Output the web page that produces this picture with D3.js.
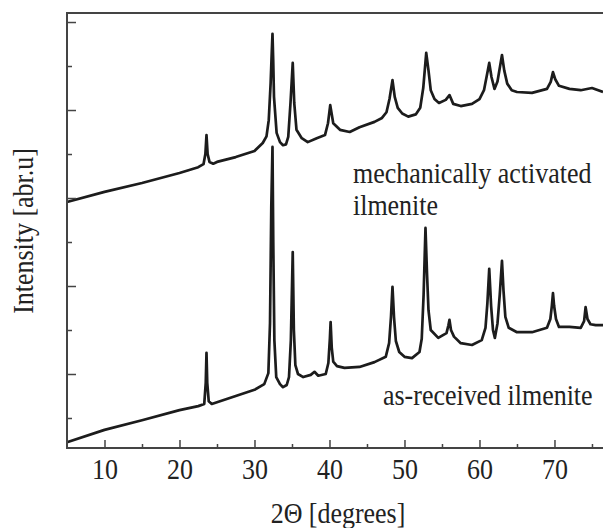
<!DOCTYPE html>
<html>
<head>
<meta charset="utf-8">
<script src="https://cdn.jsdelivr.net/npm/d3@7"></script>
<style>
  body { margin: 0; background: #fff; }
  text { font-family: "Liberation Serif", "Times New Roman", serif; fill: #222; }
</style>
</head>
<body>
<div id="chart-container"></div>
<script>
// XRD patterns, values (arbitrary intensity units)
const activatedAngles = [5, 10, 15, 20, 22.5, 23.2, 23.45, 23.6, 23.75, 24.0, 24.5, 25, 27.5, 30, 31.1, 31.6, 31.9, 32.15, 32.3, 32.4,
  32.5, 32.6, 32.95, 33.4, 33.8, 34.2, 34.5, 34.8, 35.1, 35.3, 35.6, 36.3, 37.1, 38.3, 39.4, 39.8, 40.1, 40.5, 41.4, 42.7,
  44, 46, 47.0, 47.6, 48.0, 48.4, 48.7, 49.1, 49.7, 50.5, 51.5, 52.1, 52.5, 52.9, 53.2, 53.5, 54.0, 54.6, 55.5, 56.0,
  56.5, 57.5, 59, 60.0, 60.6, 61.0, 61.3, 61.6, 62.0, 62.4, 62.7, 63.0, 63.3, 63.7, 64.3, 65, 67, 69, 69.5, 69.8,
  70.1, 70.6, 72, 73.5, 75, 76.47];
const activatedCounts = [491, 514, 534, 557, 570, 577, 600, 643, 600, 582, 578, 582, 593, 607, 625, 640, 677, 760, 830, 873,
  810, 730, 648, 627, 620, 622, 639, 716, 807, 716, 655, 636, 627, 636, 643, 670, 711, 670, 655, 650,
  661, 673, 682, 695, 725, 768, 730, 705, 692, 685, 690, 705, 750, 830, 790, 745, 725, 716, 723, 734,
  714, 709, 714, 725, 745, 780, 807, 775, 748, 765, 795, 825, 790, 760, 745, 741, 739, 748, 764, 786,
  770, 755, 748, 745, 750, 741];

const receivedAngles = [5, 10, 15, 20, 22.5, 23.3, 23.5, 23.6, 23.7, 23.9, 24.3, 25, 27.5, 30, 31.3, 31.85, 32.07, 32.24, 32.4, 32.5,
  32.65, 32.9, 33.4, 33.8, 34.3, 34.6, 34.85, 35.1, 35.25, 35.45, 35.8, 36.5, 37.5, 38.0, 38.5, 39.5, 39.85, 40.05, 40.15, 40.3,
  40.5, 41, 42, 44, 46, 47.5, 47.95, 48.2, 48.4, 48.6, 48.85, 49.3, 50, 51, 52, 52.3, 52.55, 52.8, 53.0, 53.2,
  53.5, 54.5, 55.6, 55.85, 56.0, 56.2, 56.6, 57.5, 59, 60.3, 60.8, 61.05, 61.3, 61.55, 61.8, 62.05, 62.4, 62.7, 63.0, 63.2,
  63.45, 63.9, 65, 67, 69, 69.45, 69.65, 69.8, 69.95, 70.2, 70.6, 72, 73.5, 73.95, 74.15, 74.4, 74.8, 75.5, 76.47];
const receivedCounts = [-55, -27, -5, 18, 27, 32, 80, 148, 80, 38, 32, 36, 50, 64, 77, 102, 216, 480, 616, 405,
  177, 93, 77, 70, 75, 93, 177, 377, 200, 120, 100, 93, 98, 105, 96, 100, 125, 180, 218, 160,
  128, 118, 114, 116, 127, 139, 170, 230, 298, 230, 175, 150, 139, 136, 150, 180, 280, 432, 330, 245,
  200, 182, 193, 210, 223, 200, 185, 170, 166, 177, 205, 260, 339, 255, 200, 182, 215, 280, 357, 290,
  230, 205, 195, 195, 205, 225, 255, 284, 255, 225, 207, 207, 205, 220, 252, 225, 213, 211, 211];

const xTicks = [10, 20, 30, 40, 50, 60, 70];
const xMinorTicks = [15, 25, 35, 45, 55, 65, 75];
const yMajorTicks = [100, 300, 500, 700, 900];
const yMinorTicks = [0, 200, 400, 600, 800];

const svgWidth = 603;
const svgHeight = 528;
const margin = { top: 13, right: 0, bottom: 80, left: 67 };
const width = svgWidth - margin.left - margin.right;
const height = svgHeight - margin.top - margin.bottom;

// the lettering in the figure is a narrow Times, so squeeze it a bit
const squeeze = "scale(0.88,1)";
const fontSize = 29.5;

const svg = d3.select("#chart-container")
    .append("svg")
    .attr("width", svgWidth)
    .attr("height", svgHeight)
    .append("g")
    .attr("transform", `translate(${margin.left},${margin.top})`);

const x = d3.scaleLinear().domain([5, 76.47]).range([0, width]);
const y = d3.scaleLinear().domain([-68.2, 920.5]).range([height, 0]);

// curves
const line = d3.line()
    .x(d => x(d[0]))
    .y(d => y(d[1]));

const series = [
    d3.zip(activatedAngles, activatedCounts),
    d3.zip(receivedAngles, receivedCounts)
];

svg.selectAll(".trace")
    .data(series)
    .enter()
    .append("path")
    .attr("class", "trace")
    .attr("d", line)
    .attr("fill", "none")
    .attr("stroke", "#1c1c1c")
    .attr("stroke-width", 2.7)
    .attr("stroke-linejoin", "round");

// axes, ticks point inward
const axisColor = "#444";
svg.append("g")
    .attr("transform", `translate(0,${height})`)
    .call(d3.axisBottom(x).tickValues(xTicks).tickSize(-8).tickFormat(d3.format("d")))
    .call(g => g.select(".domain").remove())
    .call(g => g.selectAll(".tick line").attr("stroke", axisColor).attr("stroke-width", 1.5))
    .call(g => g.selectAll(".tick text")
        .attr("y", 31).attr("dy", null)
        .attr("transform", squeeze)
        .attr("font-size", fontSize)
        .attr("fill", "#222"));

svg.append("g")
    .attr("transform", `translate(0,${height})`)
    .call(d3.axisBottom(x).tickValues(xMinorTicks).tickSize(-4).tickFormat(""))
    .call(g => g.select(".domain").remove())
    .call(g => g.selectAll(".tick line").attr("stroke", axisColor).attr("stroke-width", 1.5));

svg.append("g")
    .call(d3.axisLeft(y).tickValues(yMajorTicks).tickSize(-9).tickFormat(""))
    .call(g => g.select(".domain").remove())
    .call(g => g.selectAll(".tick line").attr("stroke", axisColor).attr("stroke-width", 1.5));

svg.append("g")
    .call(d3.axisLeft(y).tickValues(yMinorTicks).tickSize(-5).tickFormat(""))
    .call(g => g.select(".domain").remove())
    .call(g => g.selectAll(".tick line").attr("stroke", axisColor).attr("stroke-width", 1.5));

// frame: left, bottom, top
svg.append("path")
    .attr("d", `M${width},0H0V${height}H${width}`)
    .attr("fill", "none")
    .attr("stroke", axisColor)
    .attr("stroke-width", 2);

// labels
function label(txt, px, py, rot) {
    svg.append("text")
        .text(txt)
        .attr("transform", `translate(${px},${py})` + (rot ? " rotate(-90)" : "") + " " + squeeze)
        .attr("text-anchor", rot ? "middle" : "start")
        .attr("font-size", fontSize);
}

svg.append("text")
    .text("2Θ [degrees]")
    .attr("transform", `translate(${width / 2 + 3},${height + 75}) ${squeeze}`)
    .attr("text-anchor", "middle")
    .attr("font-size", fontSize);

label("Intensity [abr.u]", -34, 218, true);
label("mechanically activated", 286, 170);
label("ilmenite", 286, 202);
label("as-received ilmenite", 316, 392);
</script>
</body>
</html>
